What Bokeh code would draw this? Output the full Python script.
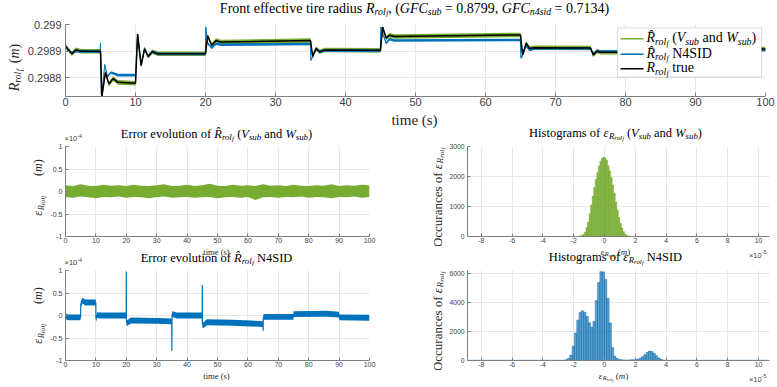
from math import pi
from bokeh.plotting import figure
from bokeh.layouts import column, row
from bokeh.models import Label, BoxAnnotation, Range1d, FixedTicker, CustomJSTickFormatter
from bokeh.embed import file_html
from bokeh.resources import INLINE

# ------------------------------------------------------------------ data
# Top panel: front effective tire radius (m)
t_true = [0.0, 0.4, 0.9, 1.5, 2.2, 5.0, 5.2, 5.7, 6.2, 6.8, 7.5, 10.0, 10.3, 10.8, 11.3, 11.8, 12.4, 13.2,
          20.0, 20.3, 20.9, 21.5, 22.2, 35.0, 35.3, 35.8, 36.3, 37.0, 45.0, 45.3, 45.8, 46.3, 47.0,
          65.0, 65.3, 65.8, 66.3, 67.0, 75.0, 75.4, 75.9, 76.5, 90.0, 90.4, 91.0, 100.0]
r_true = [0.298920, 0.298905, 0.298890, 0.298905, 0.298900, 0.298900, 0.298730, 0.298820, 0.298777, 0.298797,
          0.298783, 0.298780, 0.298964, 0.298846, 0.298909, 0.298880, 0.298898, 0.298890, 0.298890, 0.298958,
          0.298922, 0.298940, 0.298934, 0.298940, 0.298880, 0.298910, 0.298898, 0.298904, 0.298903, 0.298990,
          0.298949, 0.298960, 0.298955, 0.298961, 0.298886, 0.298930, 0.298910, 0.298913, 0.298912, 0.298886,
          0.298900, 0.298896, 0.298896, 0.298915, 0.298906, 0.298908]
t_blue = [0.0, 0.4, 0.9, 1.5, 4.95, 5.0, 5.1, 5.25, 5.6, 6.0, 6.5, 7.5, 10.0, 10.3, 10.8, 11.3, 11.8, 12.4, 13.2,
          19.97, 20.05, 20.3, 20.9, 21.5, 22.2, 34.97, 35.05, 35.3, 35.8, 36.3, 37.0, 44.97, 45.05, 45.3, 45.8,
          46.3, 47.0, 64.97, 65.05, 65.3, 65.8, 66.3, 67.0, 75.0, 75.4, 75.9, 76.5, 90.0, 90.4, 100.0]
r_blue = [0.298915, 0.298905, 0.298893, 0.298900, 0.298898, 0.298930, 0.298740, 0.298750, 0.298850, 0.298805,
          0.298820, 0.298810, 0.298810, 0.298960, 0.298850, 0.298910, 0.298880, 0.298898, 0.298890,
          0.298890, 0.298990, 0.298930, 0.298912, 0.298928, 0.298924,
          0.298927, 0.298866, 0.298880, 0.298910, 0.298898, 0.298902,
          0.298902, 0.298990, 0.298968, 0.298930, 0.298945, 0.298940,
          0.298942, 0.298875, 0.298885, 0.298920, 0.298905, 0.298910,
          0.298910, 0.298890, 0.298900, 0.298898, 0.298898, 0.298910, 0.298904]
noise_green_m = 0.85e-5
noise_blue_m = 0.5e-5
top_xticks = [0, 10, 20, 30, 40, 50, 60, 70, 80, 90, 100]
top_yticks = [0.2988, 0.2989, 0.299]

# Error of (V_sub, W_sub) estimate, units of 1e-4 m (noise envelope)
t_gerr = [0, 2.5, 5, 7.5, 10, 12.5, 15, 17.5, 20, 22.5, 25, 27.5, 30, 32.5, 35, 37.5, 40, 42.5, 45, 47.5,
          50, 52.5, 55, 57.5, 60, 62.5, 65, 67.5, 70, 72.5, 75, 77.5, 80, 82.5, 85, 87.5, 90, 92.5, 95, 97.5, 100]
gerr_hi = [0.14, 0.12, 0.16, 0.13, 0.12, 0.15, 0.13, 0.14, 0.12, 0.15, 0.13, 0.12, 0.14, 0.16, 0.12, 0.13,
           0.15, 0.12, 0.14, 0.17, 0.13, 0.12, 0.15, 0.13, 0.14, 0.12, 0.16, 0.13, 0.14, 0.12, 0.15, 0.13,
           0.12, 0.14, 0.13, 0.16, 0.12, 0.14, 0.13, 0.15, 0.14]
gerr_lo = [-0.12, -0.14, -0.11, -0.13, -0.15, -0.12, -0.13, -0.11, -0.14, -0.12, -0.13, -0.15, -0.12, -0.11,
           -0.14, -0.13, -0.12, -0.14, -0.13, -0.12, -0.15, -0.13, -0.12, -0.14, -0.12, -0.19, -0.13, -0.12,
           -0.14, -0.12, -0.13, -0.11, -0.14, -0.12, -0.13, -0.15, -0.12, -0.13, -0.11, -0.14, -0.12]
# Error of N4SID estimate, units of 1e-4 m
t_berr = [0.0, 1.0, 4.97, 5.03, 5.6, 6.5, 9.97, 10.03, 10.4, 11.5, 19.95, 20.0, 20.05, 20.3, 21.5, 30.0,
          34.95, 35.0, 35.05, 35.3, 36.5, 44.95, 45.0, 45.05, 45.3, 46.5, 55.0, 64.95, 65.0, 65.05, 65.5,
          74.97, 75.03, 86.0, 89.97, 90.03, 100.0]
berr = [-0.02, -0.04, -0.04, 0.25, 0.33, 0.29, 0.29, -0.08, 0.01, 0.0, 0.0, 0.98, -0.14, -0.17, -0.11, -0.12,
        -0.13, -0.79, 0.02, 0.03, 0.0, 0.0, 0.68, -0.20, -0.22, -0.15, -0.16, -0.19, -0.34, -0.05, -0.03,
        -0.03, 0.03, 0.04, 0.02, -0.04, -0.05]
berr_noise = 0.065
err_xticks = [0, 10, 20, 30, 40, 50, 60, 70, 80, 90, 100]
err_yticks = [-1, -0.5, 0, 0.5, 1]

# Histograms, x in units of 1e-5 m
hg_centers = [-1.65, -1.55, -1.45, -1.35, -1.25, -1.15, -1.05, -0.95, -0.85, -0.75, -0.65, -0.55, -0.45, -0.35,
              -0.25, -0.15, -0.05, 0.05, 0.15, 0.25, 0.35, 0.45, 0.55, 0.65, 0.75, 0.85, 0.95, 1.05, 1.15,
              1.25, 1.35, 1.45, 1.55, 1.65]
hg_counts = [10, 18, 40, 75, 150, 300, 480, 760, 1050, 1350, 1640, 1900, 2130, 2350, 2510, 2610, 2650, 2620,
             2540, 2360, 2180, 1960, 1720, 1440, 1150, 880, 640, 440, 280, 160, 85, 40, 18, 7]
hg_width = 0.1
hb_centers = [-2.475, -2.325, -2.175, -2.025, -1.875, -1.725, -1.575, -1.425, -1.275, -1.125, -0.975, -0.825,
              -0.675, -0.525, -0.375, -0.225, -0.075, 0.075, 0.225, 0.375, 0.525, 0.675, 0.825, 0.975, 1.125,
              1.275, 1.425, 1.575, 1.725, 1.875, 2.025, 2.175, 2.325, 2.475, 2.625, 2.775, 2.925, 3.075,
              3.225, 3.375, 3.525, 3.675, 3.825, 3.975]
hb_counts = [60, 150, 380, 1000, 1900, 2800, 3320, 3440, 3330, 3050, 2620, 2300, 2700, 4150, 5400, 6150, 6130,
             5600, 4300, 2600, 900, 300, 130, 70, 45, 40, 35, 40, 45, 50, 60, 90, 160, 260, 400, 560, 650,
             620, 500, 330, 170, 80, 35, 15]
hb_width = 0.15
hb_tail_left = [-8.85, 4.05]
hb_tail_right = [-2.55, 10.65]
hb_tail_counts = [15, 15]
hist_xticks = [-8, -6, -4, -2, 0, 2, 4, 6, 8, 10]
hg_yticks = [0, 1000, 2000, 3000]
hb_yticks = [0, 2000, 4000, 6000]

# ------------------------------------------------------------------ style
GREEN = "#77AC30"
BLUE = "#0072BD"
AXC = "#7f7f7f"
GRIDC = "#e6e6e6"
TICKC = "#404040"
LABC = "#262626"
SERIF = "Liberation Serif"
SANS = "Liberation Sans"

TR = dict(zip("abcdefghijklmnopqrstuvwxyz",
              [444, 500, 444, 500, 444, 333, 500, 500, 278, 278, 500, 278, 778, 500, 500, 500, 500, 333, 389,
               278, 500, 500, 722, 500, 500, 444]))
TR.update(dict(zip("ABCDEFGHIJKLMNOPQRSTUVWXYZ",
                   [722, 667, 667, 722, 611, 556, 722, 722, 333, 389, 722, 611, 889, 722, 722, 556, 722, 667,
                    556, 611, 722, 722, 944, 722, 722, 611])))
TR.update({c: 500 for c in "0123456789"})
TR.update({" ": 250, "(": 333, ")": 333, ",": 250, ".": 250, "=": 564, "-": 333, "\u03b5": 440})
TI = dict(zip("abcdefghijklmnopqrstuvwxyz",
              [500, 500, 444, 500, 444, 278, 500, 500, 278, 278, 444, 278, 722, 500, 500, 500, 500, 389, 389,
               278, 500, 444, 667, 444, 444, 389]))
TI.update(dict(zip("ABCDEFGHIJKLMNOPQRSTUVWXYZ",
                   [611, 611, 667, 722, 611, 611, 722, 722, 333, 444, 667, 556, 833, 667, 722, 611, 722, 611,
                    500, 556, 722, 611, 833, 611, 556, 556])))
TI.update({c: 500 for c in "0123456789"})
TI.update({" ": 250, "(": 333, ")": 333, ",": 250, ".": 250, "=": 675, "\u03b5": 440})
AR = {c: 556 for c in "0123456789"}
AR.update({"-": 333, "\u00d7": 584, " ": 278, ".": 278})

KIND = {
    'r': (1.0, 0.0, 'normal', 'serif'),
    'i': (1.0, 0.0, 'italic', 'serif'),
    's': (0.7, 0.15, 'italic', 'serif'),
    'ss': (0.55, 0.25, 'italic', 'serif'),
    'sss': (0.45, 0.32, 'italic', 'serif'),
    'a': (1.0, 0.0, 'normal', 'sans'),
    'asup': (0.72, -0.45, 'normal', 'sans'),
}
MID = 0.33  # distance of the text-box middle above the baseline (em)


def seg_width(text, kind, size):
    sc, dy, st, fam = KIND[kind]
    table = AR if fam == 'sans' else (TI if st == 'italic' else TR)
    return sum(table.get(ch, 500) for ch in text if ch != '\u0302') / 1000.0 * size * sc


def rich(fig, box, segs, X, Y, size, align='center', rot=False, color="#000000", dys=1.0):
    """Place mixed-style text; X, Y = baseline start in page pixels; box = (frame left, frame bottom)."""
    fl, fb = box
    widths = [(t if k == 'gap' else seg_width(t, k, size)) for t, k in segs]
    total = sum(widths)
    pos = {'center': -total / 2.0, 'left': 0.0, 'right': -total}[align]
    for (t, k), w in zip(segs, widths):
        if k != 'gap':
            sc, dy, st, fam = KIND[k]
            dy *= dys
            s = size * sc
            lead = len(t) - len(t.lstrip(' '))
            shift = seg_width(' ' * lead, k, size) if lead else 0.0
            txt = t.strip(' ')
            p0 = pos + shift
            if rot:
                ax, ay = X + dy * size - MID * s, Y - p0
            else:
                ax, ay = X + p0, Y + dy * size - MID * s
            fig.add_layout(Label(x=ax - fl, y=fb - ay, x_units='screen', y_units='screen', text=txt,
                                 angle=(pi / 2 if rot else 0), text_font=(SERIF if fam == 'serif' else SANS),
                                 text_font_size="%.2fpx" % s, text_font_style=st,
                                 text_color=color, text_align='left', text_baseline='middle'))
        pos += w


def strip(left, top, w, h):
    p = figure(frame_width=w, frame_height=h, min_border=0, x_range=Range1d(0, 1), y_range=Range1d(0, 1),
               x_axis_type=None, y_axis_type=None, output_backend="svg", toolbar_location=None)
    p.outline_line_color = None
    p.background_fill_color = "white"
    p.border_fill_color = "white"
    return p, (left, top + h)


def make_fig(fw, fh, bl, br, bt, bb, xr, yr, xt, yt, tick_px, tick_in, standoff_x, standoff_y):
    p = figure(frame_width=fw, frame_height=fh, min_border_left=bl, min_border_right=br,
               min_border_top=bt, min_border_bottom=bb, x_range=Range1d(*xr), y_range=Range1d(*yr),
               output_backend="svg", toolbar_location=None)
    p.outline_line_color = None
    p.background_fill_color = "white"
    p.border_fill_color = "white"
    p.xaxis.ticker = FixedTicker(ticks=xt)
    p.yaxis.ticker = FixedTicker(ticks=yt)
    p.xgrid.ticker = FixedTicker(ticks=xt)
    p.ygrid.ticker = FixedTicker(ticks=yt)
    for ax, so in ((p.xaxis[0], standoff_x), (p.yaxis[0], standoff_y)):
        ax.formatter = CustomJSTickFormatter(code="return String(parseFloat(tick.toFixed(6)));")
        ax.axis_line_color = AXC
        ax.axis_line_width = 1
        ax.major_tick_line_color = AXC
        ax.major_tick_in = tick_in
        ax.major_tick_out = 0
        ax.minor_tick_line_color = None
        ax.major_label_text_font = SANS
        ax.major_label_text_font_size = "%.1fpx" % tick_px
        ax.major_label_text_color = TICKC
        ax.major_label_standoff = so
    for g in (p.xgrid[0], p.ygrid[0]):
        g.grid_line_color = GRIDC
        g.grid_line_width = 1
    return p


EPS = [("\u03b5", 'i'), ("R", 's'), ("rol", 'ss'), ("f", 'sss')]
ERR_YLAB = EPS + [(20, 'gap'), ("(", 'r'), ("m", 'i'), (")", 'r')]
HIST_YLAB = [("Occurances of ", 'r')] + EPS
HIST_XLAB = EPS + [(" (", 'r'), ("m", 'i'), (")", 'r')]
EXP4 = [("\u00d710", 'a'), ("-4", 'asup')]
EXP5 = [("\u00d710", 'a'), ("-5", 'asup')]
TIME = [("time (s)", 'r')]

# ------------------------------------------------------------------ band A (y 0-17): main title
sA, bA = strip(0, 0, 776, 17)
rich(sA, bA, [("Front effective tire radius ", 'r'), ("R", 'i'), ("rol", 's'), ("f", 'ss'), (", (", 'r'),
              ("GFC", 'i'), ("sub", 's'), (" = 0.8799, ", 'r'), ("GFC", 'i'), ("n4sid", 's'),
              (" = 0.7134)", 'r')], 414, 12.6, 14, dys=0.8)

# ------------------------------------------------------------------ band B (y 17-111): top panel
sB, bB = strip(0, 17, 24, 94)
rich(sB, bB, [("R", 'i'), ("rol", 's'), ("f", 'ss'), (6, 'gap'), ("(", 'r'), ("m", 'i'), (")", 'r')],
     19, 60, 14, rot=True, color=LABC, dys=0.8)

p_top = make_fig(700, 72, 40, 12, 7, 15, (0, 100), (0.29873, 0.29900), top_xticks, top_yticks, 11, 4, 1, 4)
F_TOP = (64, 96)
p_top.varea(x=t_true, y1=[v - noise_green_m for v in r_true], y2=[v + noise_green_m for v in r_true],
            fill_color=GREEN, fill_alpha=1.0)
p_top.line(t_true, r_true, line_color=GREEN, line_width=1)
p_top.varea(x=t_blue, y1=[v - noise_blue_m for v in r_blue], y2=[v + noise_blue_m for v in r_blue],
            fill_color=BLUE, fill_alpha=1.0)
p_top.line(t_blue, r_blue, line_color=BLUE, line_width=1.0)
p_top.line(t_true, r_true, line_color="black", line_width=1.5)

# legend (inside the top frame)
fl, fb = F_TOP
p_top.add_layout(BoxAnnotation(left=616 - fl, right=760 - fl, top=fb - 27.5, bottom=fb - 76.5,
                               left_units='screen', right_units='screen', top_units='screen',
                               bottom_units='screen', fill_color="white", fill_alpha=1.0,
                               line_color="#8c8c8c", line_width=1))
for ycen, col in ((38.3, GREEN), (53.8, BLUE), (68.3, "black")):
    p_top.add_layout(BoxAnnotation(left=619 - fl, right=642 - fl, top=fb - (ycen - 0.8), bottom=fb - (ycen + 0.8),
                                   left_units='screen', right_units='screen', top_units='screen',
                                   bottom_units='screen', fill_color=col, fill_alpha=1.0, line_color=None))
rich(p_top, F_TOP, [("R\u0302", 'i'), ("rol", 's'), ("f", 'ss'), (" (", 'r'), ("V", 'i'), ("sub", 's'),
                    (" and ", 'r'), ("W", 'i'), ("sub", 's'), (")", 'r')], 645, 42.0, 14, align='left')
rich(p_top, F_TOP, [("R\u0302", 'i'), ("rol", 's'), ("f", 'ss'), (" N4SID", 'r')], 645, 57.5, 14, align='left')
rich(p_top, F_TOP, [("R", 'i'), ("rol", 's'), ("f", 'ss'), (" true", 'r')], 645, 72.0, 14, align='left')

# ------------------------------------------------------------------ band C (y 111-142)
sC, bC = strip(0, 111, 776, 31)
rich(sC, bC, TIME, 414, 124.6, 15, color=LABC)
rich(sC, bC, [("Error evolution of ", 'r'), ("R\u0302", 'i'), ("rol", 's'), ("f", 'ss'), (" (", 'r'),
              ("V", 'i'), ("sub", 's'), (" and ", 'r'), ("W", 'i'), ("sub", 's'), (")", 'r')],
     216, 137.2, 12.5)
rich(sC, bC, [("Histograms of ", 'r')] + EPS + [(" (", 'r'), ("V", 'i'), ("sub", 's'), (" and ", 'r'),
                                               ("W", 'i'), ("sub", 's'), (")", 'r')], 615, 136.6, 12.5)
rich(sC, bC, EXP4, 64, 140.2, 7.5, align='left', color=TICKC)

# ------------------------------------------------------------------ middle row (y 142-246)
sL6, bL6 = strip(0, 142, 47, 104)
rich(sL6, bL6, ERR_YLAB, 41.5, 183, 12, rot=True, color=LABC)

p_ml = make_fig(304, 90, 17, 32, 4, 10, (0, 100), (-1, 1), err_xticks, err_yticks, 7, 3, 1, 3)
p_ml.varea(x=t_gerr, y1=gerr_lo, y2=gerr_hi, fill_color=GREEN, fill_alpha=1.0)

sR9, bR9 = strip(400, 142, 45, 104)
rich(sR9, bR9, HIST_YLAB, 440, 193, 13, rot=True, color=LABC)

p_mr = make_fig(302, 90, 19, 10, 4, 10, (-8.89, 10.71), (0, 3000), hist_xticks, hg_yticks, 6.8, 3, 1, 3)
p_mr.vbar(x=hg_centers, width=hg_width, top=hg_counts, bottom=0, fill_color=GREEN, fill_alpha=0.9,
          line_color=GREEN, line_width=0.4)

# ------------------------------------------------------------------ band D (y 246-266)
sD, bD = strip(0, 246, 776, 20)
rich(sD, bD, TIME, 216, 254, 8.6, color=LABC)
rich(sD, bD, HIST_XLAB, 615, 254, 9, color=LABC)
rich(sD, bD, EXP5, 766, 257, 7.5, align='right', color=TICKC)
rich(sD, bD, [("Error evolution of ", 'r'), ("R\u0302", 'i'), ("rol", 's'), ("f", 'ss'), (" N4SID", 'r')],
     216, 261.3, 12.5)
rich(sD, bD, [("Histograms of ", 'r')] + EPS + [(" N4SID", 'r')], 615, 260.6, 12.5)
rich(sD, bD, EXP4, 64, 264.3, 7.5, align='left', color=TICKC)

# ------------------------------------------------------------------ bottom row (y 266-370)
sL14, bL14 = strip(0, 266, 47, 104)
rich(sL14, bL14, ERR_YLAB, 41.5, 311, 12, rot=True, color=LABC)

p_bl = make_fig(304, 90, 17, 32, 4, 10, (0, 100), (-1, 1), err_xticks, err_yticks, 7, 3, 1, 3)
p_bl.varea(x=t_berr, y1=[v - berr_noise for v in berr], y2=[v + berr_noise for v in berr],
           fill_color=BLUE, fill_alpha=1.0)
p_bl.line(t_berr, berr, line_color=BLUE, line_width=1.2)

sR17, bR17 = strip(400, 266, 45, 104)
rich(sR17, bR17, HIST_YLAB, 440, 317, 13, rot=True, color=LABC)

p_br = make_fig(302, 90, 19, 10, 4, 10, (-8.89, 10.71), (0, 6230), hist_xticks, hb_yticks, 6.8, 3, 1, 3)
p_br.quad(left=hb_tail_left, right=hb_tail_right, top=hb_tail_counts, bottom=0, fill_color=BLUE,
          fill_alpha=0.5, line_color="#5aa0d6", line_width=0.8)
p_br.vbar(x=hb_centers, width=hb_width, top=hb_counts, bottom=0, fill_color=BLUE, fill_alpha=0.65,
          line_color="#1f6aa5", line_width=0.5)

# ------------------------------------------------------------------ band E (y 370-386)
sE, bE = strip(0, 370, 776, 16)
rich(sE, bE, TIME, 216, 378.5, 8.6, color=LABC)
rich(sE, bE, HIST_XLAB, 613, 378, 9, color=LABC)
rich(sE, bE, EXP5, 766, 381, 7.5, align='right', color=TICKC)

layout = column(
    sA,
    row(sB, p_top),
    sC,
    row(sL6, p_ml, sR9, p_mr),
    sD,
    row(sL14, p_bl, sR17, p_br),
    sE,
)
open("out.html", "w").write(file_html(layout, INLINE))
